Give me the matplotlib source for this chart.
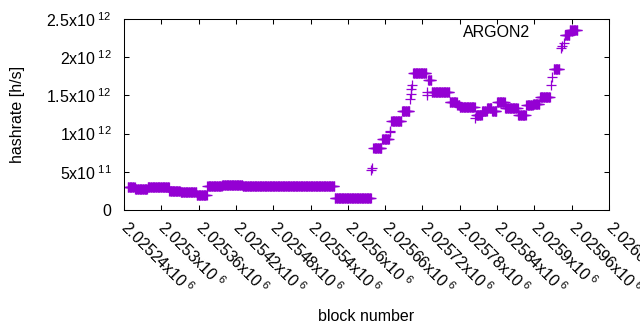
import numpy as np
import matplotlib.pyplot as plt

plt.rcParams['font.family'] = ['Liberation Sans', 'DejaVu Sans']
plt.rcParams['mathtext.fontset'] = 'custom'
plt.rcParams['mathtext.rm'] = 'Liberation Sans'
plt.rcParams['mathtext.it'] = 'Liberation Sans:italic'
plt.rcParams['mathtext.bf'] = 'Liberation Sans:bold'

# plateaus of the estimated hashrate (first block, last block, value)
seg_start = [2025246, 2025258, 2025278, 2025313, 2025331, 2025357, 2025374, 2025398,
             2025431, 2025579, 2025641, 2025655, 2025670, 2025687, 2025705, 2025729,
             2025735, 2025764, 2025776, 2025780, 2025806, 2025816, 2025824, 2025832,
             2025840, 2025853, 2025874, 2025887, 2025898, 2025909, 2025931, 2025949,
             2025957]
seg_end = [2025257, 2025277, 2025312, 2025330, 2025356, 2025373, 2025397, 2025430,
           2025578, 2025637, 2025654, 2025666, 2025686, 2025699, 2025726, 2025734,
           2025763, 2025775, 2025779, 2025804, 2025815, 2025823, 2025831, 2025839,
           2025852, 2025873, 2025886, 2025897, 2025908, 2025925, 2025940, 2025956,
           2025969]
seg_value = [2.97e11, 2.75e11, 3.05e11, 2.53e11, 2.32e11, 1.96e11, 3.14e11, 3.27e11,
             3.10e11, 1.52e11, 8.07e11, 9.25e11, 1.165e12, 1.30e12, 1.79e12, 1.70e12,
             1.54e12, 1.41e12, 1.38e12, 1.35e12, 1.25e12, 1.30e12, 1.33e12, 1.29e12,
             1.41e12, 1.34e12, 1.25e12, 1.37e12, 1.39e12, 1.48e12, 1.85e12, 2.29e12,
             2.35e12]

# single blocks between plateaus
trans_block = [2025638, 2025639, 2025667, 2025668, 2025700, 2025701, 2025702, 2025703,
               2025727, 2025728, 2025805, 2025927, 2025929, 2025942, 2025945, 2025947]
trans_value = [5.2e11, 5.5e11, 1.02e12, 1.04e12, 1.45e12, 1.52e12, 1.58e12, 1.64e12,
               1.50e12, 1.55e12, 1.20e12, 1.64e12, 1.74e12, 2.12e12, 2.15e12, 2.18e12]

x_min, x_max = 2025240, 2026020
x_ticks = np.arange(x_min, x_max + 1, 60)
y_ticks = [0, 5e11, 1e12, 1.5e12, 2e12, 2.5e12]


def sci_label(v):
    if v == 0:
        return '0'
    e = int(np.floor(np.log10(v)))
    m = v / 10 ** e
    return f'{m:g}x10$^{{\\ {e}}}$'


blocks = np.concatenate([np.arange(s, e + 1) for s, e in zip(seg_start, seg_end)] + [trans_block])
rates = np.concatenate([np.full(e - s + 1, v) for s, e, v in zip(seg_start, seg_end, seg_value)] + [trans_value])

fig = plt.figure(figsize=(6.4, 3.3), dpi=100)
ax = fig.add_axes([124 / 640, 120 / 330, 485 / 640, 191 / 330])

ax.plot(blocks, rates, '+', color='#9400d3', ms=6.5, mew=0.9, label='ARGON2')

ax.set_xlim(x_min, x_max)
ax.set_ylim(0, 2.5e12)
ax.set_xticks(x_ticks)
ax.set_xticklabels([f'{t / 1e6:g}x10$^{{\\ 6}}$' for t in x_ticks],
                   rotation=-45, ha='left', va='center', rotation_mode='anchor')
ax.set_yticks(y_ticks)
ax.set_yticklabels([sci_label(t) for t in y_ticks])
ax.tick_params(direction='in', length=3.3, width=0.75, top=True, right=True, labelsize=11.5)
ax.tick_params(axis='x', pad=10)
ax.tick_params(axis='y', pad=9)
for sp in ax.spines.values():
    sp.set_linewidth(0.75)

ax.set_xlabel('block number', fontsize=11.5, va='top')
ax.xaxis.set_label_coords(0.5, -0.52)
ax.set_ylabel('hashrate [h/s]', fontsize=11.5)
ax.yaxis.set_label_coords(-0.204, 0.5)

ax.legend(loc='upper right', bbox_to_anchor=(0.94, 0.97), frameon=False, markerfirst=False,
          handlelength=1.0, handletextpad=2.1, borderpad=0, borderaxespad=0, fontsize=11.5)

fig.savefig('out.png', dpi=100)
